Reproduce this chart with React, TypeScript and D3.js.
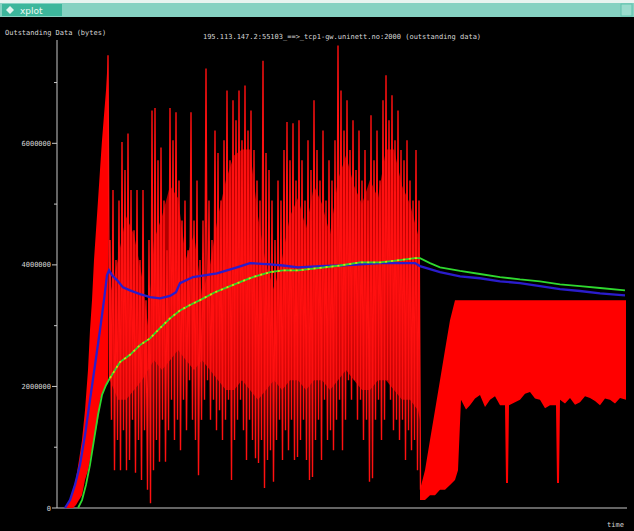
import React from "react";
import * as d3 from "d3";

const WINDOW_TITLE = "xplot";
const TITLE = "195.113.147.2:55103_==>_tcp1-gw.uninett.no:2000 (outstanding data)";
const Y_LABEL = "Outstanding Data (bytes)";
const X_LABEL = "time";

const Y_MAJOR_TICKS = [0, 2000000, 4000000, 6000000];
const Y_MINOR_TICKS = [1000000, 3000000, 5000000, 7000000];
const TIME_DOMAIN = [0, 56.8];
const BYTES_DOMAIN = [0, 7.7e6];
const MB = 1e6;

// initial slow-start burst (time s, envelope in millions of bytes)
const BURST_T = [0.8, 1.3, 1.6, 1.9, 2.2, 2.5, 2.8, 3.1, 3.3, 3.5, 3.7, 3.9, 4.1, 4.3, 4.5, 4.7, 4.9, 5.1];
const BURST_HIGH_M = [0, 0.13, 0.3, 0.49, 0.79, 1.12, 1.61, 2.27, 2.93, 3.42, 4.08, 4.57, 5.06, 5.56, 6.05, 6.46, 6.87, 7.45];
const BURST_LOW_M = [0, 0, 0, 0.05, 0.13, 0.21, 0.46, 0.62, 0.79, 0.95, 1.12, 1.28, 1.45, 1.78, 1.86, 1.94, 2.02, 2.1];

// dense core of the oscillation (where the many sends overlap)
const CORE_T = [5.3, 6.1, 6.9, 7.7, 8.5, 9.1, 9.7, 10.5, 11.3, 12.1, 12.9, 13.7, 14.5, 15.3, 16.1, 16.9, 17.7, 18.5, 19.3, 20.1, 20.9, 21.7, 22.5, 23.3, 24.1, 24.9, 25.7, 26.5, 27.3, 28.1, 28.9, 29.7, 30.5, 31.3, 32.1, 32.9, 33.7, 34.5, 35.3, 36.1, 36.3];
const CORE_HIGH_M = [3.5, 4.1, 4.8, 4.5, 3.8, 3.0, 4.4, 4.8, 5.3, 5.1, 4.1, 4.5, 3.5, 4.0, 4.8, 5.4, 5.8, 5.9, 5.9, 4.8, 4.0, 3.6, 4.1, 4.8, 5.1, 4.6, 5.3, 5.0, 4.5, 5.4, 5.8, 5.3, 5.0, 5.4, 5.1, 5.9, 5.9, 5.3, 5.0, 4.5, 3.0];
const CORE_LOW_M = [2.1, 1.78, 1.78, 1.94, 2.1, 2.27, 2.43, 2.27, 2.43, 2.6, 2.43, 2.27, 2.43, 2.27, 2.1, 1.94, 1.94, 2.1, 1.94, 1.78, 1.94, 2.1, 1.94, 2.1, 2.1, 1.94, 2.1, 2.1, 1.94, 2.1, 2.27, 2.1, 1.94, 1.94, 2.1, 2.1, 1.94, 1.78, 1.78, 1.61, 1.45];

// outstanding data oscillation: peaks and following troughs
const RED_PEAK_T = [5.1, 5.3, 5.6, 5.9, 6.2, 6.5, 6.8, 7.1, 7.4, 7.7, 8.0, 8.3, 8.6, 8.9, 9.2, 9.5, 9.8, 10.1, 10.4, 10.7, 11.0, 11.3, 11.6, 11.9, 12.2, 12.5, 12.8, 13.1, 13.4, 13.7, 14.0, 14.3, 14.6, 14.9, 15.2, 15.5, 15.8, 16.1, 16.4, 16.7, 17.0, 17.3, 17.6, 17.9, 18.2, 18.5, 18.8, 19.1, 19.4, 19.7, 20.0, 20.3, 20.6, 20.9, 21.2, 21.5, 21.8, 22.1, 22.4, 22.7, 23.0, 23.3, 23.6, 23.9, 24.2, 24.5, 24.8, 25.1, 25.4, 25.7, 26.0, 26.3, 26.6, 26.9, 27.2, 27.5, 27.8, 28.1, 28.4, 28.7, 29.0, 29.3, 29.6, 29.9, 30.2, 30.5, 30.8, 31.1, 31.4, 31.7, 32.0, 32.3, 32.6, 32.9, 33.2, 33.5, 33.8, 34.1, 34.4, 34.7, 35.0, 35.3, 35.6, 35.9, 36.2];
const RED_PEAK_M = [7.45,
  4.41, 5.23, 4.08, 5.06, 6.02, 5.56, 6.16, 5.23, 4.57, 5.23, 4.08, 5.23, 3.42, 4.41,
  6.54, 6.58, 5.72, 5.93, 5.06, 4.24, 6.58, 6.05, 6.51, 5.39, 4.73, 5.06, 4.24, 6.51, 4.73, 5.39,
  4.08, 4.73, 7.23, 5.06, 4.41, 6.21, 5.84, 5.06, 6.05, 6.87, 5.72, 6.71, 6.38, 6.87, 6.05, 6.95, 6.21, 6.54, 5.89, 5.39, 5.06,
  7.36, 5.84, 5.56, 5.06, 4.41, 5.39, 5.06, 5.89, 6.35, 5.72, 6.33, 5.39,
  6.38, 5.72, 5.06, 6.05, 5.56, 6.71, 5.89, 5.39, 6.21, 5.06, 5.72, 5.39, 6.05, 7.61,
  6.87, 6.21, 6.71, 5.89, 6.38, 5.56, 6.21, 5.39, 5.89, 5.06, 6.46, 5.72, 6.21, 5.39, 6.71, 7.12, 6.38, 6.79, 6.05, 6.54, 5.89, 5.72, 6.05, 5.39, 5.06, 5.89, 5.06];
const RED_TROUGH_M = [2.1,
  1.45, 0.62, 1.12, 0.62, 1.28, 0.62, 0.79, 1.45, 0.58, 1.12, 0.46, 1.28, 0.3, 0.08,
  0.62, 1.12, 0.76, 1.45, 0.76, 1.28, 1.78, 1.12, 1.45, 0.95, 1.78, 1.28, 2.1, 1.45, 1.12, 0.54,
  1.45, 1.78, 2.1, 1.45, 1.78, 1.28, 1.61, 1.12, 1.45, 1.78, 0.46, 1.12, 1.45, 1.78, 1.28, 0.79, 1.45, 1.12, 0.82, 0.74, 1.12,
  0.33, 0.79, 0.95, 0.43, 1.12, 1.45, 0.79, 1.28, 0.95, 1.45, 0.79, 0.84,
  1.12, 1.45, 0.79, 0.46, 0.51, 1.12, 1.45, 0.79, 1.78, 1.12, 1.28, 0.95, 1.45, 1.78,
  0.95, 1.45, 2.1, 1.78, 2.1, 1.45, 1.78, 1.12, 1.45, 0.43, 0.49, 1.45, 1.78, 1.12, 1.45, 2.1, 1.78, 1.28, 1.45, 1.12, 1.45, 0.79, 1.28, 0.95, 1.12, 0.62, 0.3];
const TROUGH_LAG_S = 0.15;

// after the timeout: ramp and saturated band
const BAND_T = [36.3, 36.8, 37.3, 37.8, 38.3, 38.8, 39.3, 39.8, 40.1, 40.4, 40.9, 41.3, 41.8, 42.3, 42.8, 43.3, 43.8, 44.3, 44.8, 44.9, 45.1, 45.2, 45.8, 46.3, 46.8, 47.3, 47.8, 48.3, 48.8, 49.3, 49.9, 50.0, 50.2, 50.3, 50.8, 51.3, 51.8, 52.3, 52.8, 53.3, 53.8, 54.3, 54.8, 55.3, 55.8, 56.3, 56.9];
const BAND_HIGH_M = [0.3, 0.62, 1.12, 1.61, 2.1, 2.6, 3.09, 3.42, 3.42, 3.42, 3.42, 3.42, 3.42, 3.42, 3.42, 3.42, 3.42, 3.42, 3.42, 3.42, 3.42, 3.42, 3.42, 3.42, 3.42, 3.42, 3.42, 3.42, 3.42, 3.42, 3.42, 3.42, 3.42, 3.42, 3.42, 3.42, 3.42, 3.42, 3.42, 3.42, 3.42, 3.42, 3.42, 3.42, 3.42, 3.42, 3.42];
const BAND_LOW_M = [0.13, 0.13, 0.21, 0.21, 0.3, 0.3, 0.38, 0.46, 0.62, 1.78, 1.62, 1.69, 1.8, 1.86, 1.66, 1.78, 1.84, 1.69, 1.69, 0.41, 0.41, 1.69, 1.74, 1.78, 1.88, 1.91, 1.8, 1.78, 1.64, 1.69, 1.69, 0.41, 0.41, 1.78, 1.72, 1.81, 1.7, 1.74, 1.84, 1.81, 1.76, 1.69, 1.8, 1.78, 1.72, 1.81, 1.78];

// smoothed averages
const BLUE_T = [0.8, 1.3, 1.8, 2.3, 2.8, 3.3, 3.8, 4.3, 4.7, 5.0, 5.2, 5.5, 6.0, 6.6, 7.3, 8.3, 9.3, 10.3, 11.3, 11.9, 12.3, 13.6, 16.0, 18.0, 19.3, 21.3, 22.6, 24.1, 26.3, 28.3, 30.3, 32.3, 34.3, 35.8, 36.3, 38.3, 40.3, 42.3, 44.3, 46.3, 48.3, 50.3, 52.3, 54.3, 56.8];
const BLUE_M = [0, 0.13, 0.38, 0.71, 1.2, 1.78, 2.35, 2.93, 3.42, 3.83, 3.91, 3.83, 3.75, 3.63, 3.58, 3.52, 3.47, 3.45, 3.49, 3.55, 3.7, 3.8, 3.86, 3.96, 4.03, 4.01, 3.99, 3.96, 3.98, 3.99, 4.01, 4.03, 4.03, 4.03, 3.98, 3.88, 3.81, 3.78, 3.73, 3.7, 3.65, 3.6, 3.57, 3.53, 3.5];
const GREEN_T = [2.1, 2.5, 2.9, 3.3, 3.7, 4.1, 4.5, 4.9, 5.3, 5.8, 6.3, 7.3, 8.3, 9.3, 10.3, 11.3, 12.3, 13.3, 14.3, 15.8, 17.3, 18.8, 19.6, 21.3, 22.6, 24.1, 26.3, 28.3, 30.3, 32.3, 34.3, 35.8, 36.3, 37.3, 38.3, 40.3, 42.3, 44.3, 46.3, 48.3, 50.3, 52.3, 54.3, 56.8];
const GREEN_M = [0, 0.13, 0.38, 0.71, 1.12, 1.53, 1.86, 2.02, 2.14, 2.27, 2.4, 2.52, 2.68, 2.79, 2.96, 3.12, 3.25, 3.34, 3.42, 3.55, 3.65, 3.75, 3.8, 3.88, 3.91, 3.91, 3.95, 3.99, 4.04, 4.04, 4.08, 4.11, 4.11, 4.03, 3.96, 3.9, 3.85, 3.8, 3.76, 3.73, 3.68, 3.65, 3.62, 3.58];
const GREEN_YELLOW_UNTIL_S = 36.3;

const W = 634;
const H = 531;

export default function App() {
  const x = d3.scaleLinear().domain(TIME_DOMAIN).range([57, 625]);
  const y = d3.scaleLinear().domain(BYTES_DOMAIN).range([508, 40]);

  const areaGen = (T: number[], lo: number[], hi: number[]) =>
    d3.area<number>()
      .x((i) => x(T[i]))
      .y0((i) => y(lo[i] * MB))
      .y1((i) => y(hi[i] * MB))(d3.range(T.length)) || "";

  const lineGen = d3.line<[number, number]>().x((d) => x(d[0])).y((d) => y(d[1] * MB));

  const redPts: [number, number][] = [];
  RED_PEAK_T.forEach((t, i) => {
    redPts.push([t, RED_PEAK_M[i]]);
    redPts.push([t + TROUGH_LAG_S, RED_TROUGH_M[i]]);
  });

  const bluePts: [number, number][] = BLUE_T.map((t, i) => [t, BLUE_M[i]]);
  const greenPts: [number, number][] = GREEN_T.map((t, i) => [t, GREEN_M[i]]);
  const yellowPts = greenPts.filter((p) => p[0] >= 5 && p[0] <= GREEN_YELLOW_UNTIL_S);

  const font = "'DejaVu Sans Mono', monospace";
  const txt = "#d6d6d6";
  const axis = "#c8c8c8";

  return (
    <svg width={W} height={H} style={{ position: "absolute", left: 0, top: 0, display: "block" }}>
      <rect x={0} y={0} width={W} height={H} fill="#000" />
      {/* window title bar */}
      <rect x={0} y={0} width={W} height={3} fill="#e8f4f0" />
      <rect x={0} y={3} width={W} height={14} fill="#86d2c2" />
      <rect x={2} y={4} width={60} height={12} fill="#3db79c" />
      <path d="M6,10 L10,6 L14,10 L10,14 Z" fill="#e0f4ee" />
      <text x={20} y={13.5} fontFamily="'DejaVu Sans', sans-serif" fontSize={9} fill="#eaf7f3">{WINDOW_TITLE}</text>
      <rect x={621} y={4} width={11} height={12} fill="#9adccd" stroke="#5fc2ab" strokeWidth={1} />

      {/* texts */}
      <text x={5} y={35} fontFamily={font} fontSize={7} fill={txt}>{Y_LABEL}</text>
      <text x={342} y={39} fontFamily={font} fontSize={7} fill={txt} textAnchor="middle">{TITLE}</text>
      <text x={607} y={527} fontFamily={font} fontSize={7} fill={txt}>{X_LABEL}</text>

      {/* axes */}
      <line x1={57} x2={57} y1={40} y2={y(0)} stroke={axis} strokeWidth={1} />
      <line x1={57} x2={627} y1={y(0)} y2={y(0)} stroke={axis} strokeWidth={1} />
      {Y_MAJOR_TICKS.map((v) => (
        <g key={"M" + v}>
          <line x1={52} x2={57} y1={y(v)} y2={y(v)} stroke={axis} />
          <text x={51} y={y(v) + 2.5} fontFamily={font} fontSize={7} fill={txt} textAnchor="end">{String(v)}</text>
        </g>
      ))}
      {Y_MINOR_TICKS.map((v) => (
        <line key={"m" + v} x1={54} x2={57} y1={y(v)} y2={y(v)} stroke={axis} />
      ))}

      {/* red data */}
      <path d={areaGen(BURST_T, BURST_LOW_M, BURST_HIGH_M)} fill="#ff0000" />
      <path d={areaGen(CORE_T, CORE_LOW_M, CORE_HIGH_M)} fill="#e00000" fillOpacity={0.8} />
      <path d={lineGen(redPts) || ""} fill="none" stroke="#ff1010" strokeWidth={1.4} />
      <path d={areaGen(BAND_T, BAND_LOW_M, BAND_HIGH_M)} fill="#ff0000" />

      {/* averages */}
      <path d={lineGen(bluePts) || ""} fill="none" stroke="#2a1ccc" strokeWidth={2.3} />
      <path d={lineGen(greenPts) || ""} fill="none" stroke="#2fd92f" strokeWidth={1.8} />
      <path d={lineGen(yellowPts) || ""} fill="none" stroke="#d8d800" strokeWidth={1.8} strokeDasharray="2 4" />
    </svg>
  );
}
